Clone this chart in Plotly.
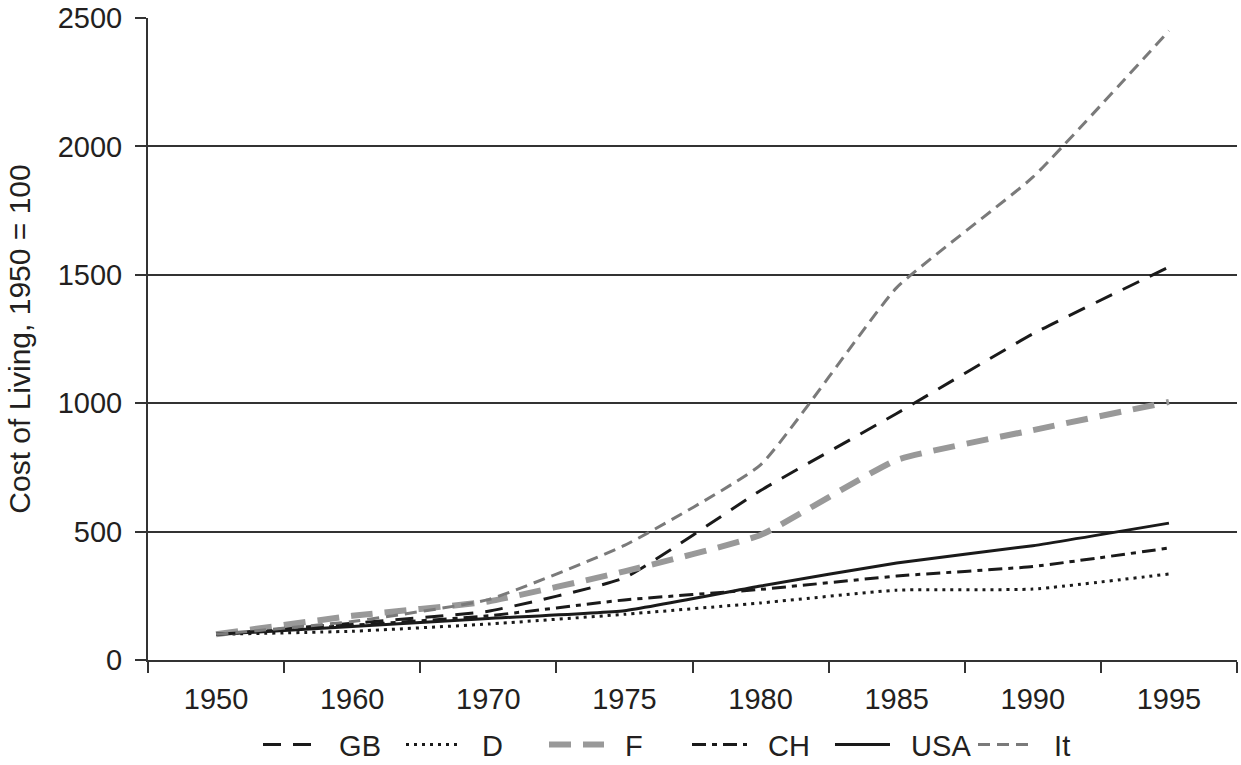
import plotly.graph_objects as go

# cost of living index, 1950 = 100
years = ["1950", "1960", "1970", "1975", "1980", "1985", "1990", "1995"]
gb = [100, 143, 190, 320, 660, 960, 1270, 1530]
d = [100, 112, 140, 178, 222, 272, 276, 335]
f = [100, 172, 228, 345, 487, 779, 895, 1005]
ch = [100, 135, 172, 234, 275, 327, 364, 436]
usa = [100, 130, 162, 192, 288, 378, 445, 533]
it = [100, 150, 235, 446, 760, 1450, 1880, 2450]

FONT = "Liberation Sans, Arial, sans-serif"
INK = "#231f20"
PAD = "\u00a0\u00a0"  # a little more room between legend key and its label

series = [
    ("GB", gb, dict(color="#1a1a1a", width=3, dash="18px,12px")),
    ("D", d, dict(color="#1a1a1a", width=3, dash="3px,5px")),
    ("F", f, dict(color="#999999", width=6, dash="22px,12px")),
    ("CH", ch, dict(color="#1a1a1a", width=3, dash="14px,6px,5px,6px")),
    ("USA", usa, dict(color="#1a1a1a", width=3)),
    ("It", it, dict(color="#7a7a7a", width=3, dash="12px,7px")),
]

fig = go.Figure()
for name, vals, line in series:
    fig.add_trace(go.Scatter(x=years, y=vals, name=PAD + name, mode="lines",
                             line=dict(shape="spline", smoothing=0.4, **line)))

fig.update_layout(
    width=1241, height=765,
    margin=dict(l=148, r=4, t=18, b=105, autoexpand=False),
    paper_bgcolor="white", plot_bgcolor="white",
    font=dict(family=FONT, size=29, color=INK),
    showlegend=True,
    legend=dict(orientation="h", x=0.101, xanchor="left", y=-0.132, yanchor="middle",
                font=dict(size=29), itemwidth=55, tracegroupgap=0,
                entrywidth=73, entrywidthmode="pixels",
                bgcolor="rgba(0,0,0,0)"),
)
fig.update_xaxes(
    type="category", range=[-0.5, 7.5], automargin=False,
    showline=True, linecolor="#333333", linewidth=2,
    ticks="outside", tickson="boundaries", ticklen=11, tickwidth=2, tickcolor="#333333",
    showgrid=False, ticklabelstandoff=12, tickfont=dict(size=29),
)
fig.update_yaxes(
    range=[0, 2500], dtick=500, tick0=0, automargin=False,
    showline=True, linecolor="#333333", linewidth=2,
    ticks="outside", ticklen=11, tickwidth=2, tickcolor="#333333",
    showgrid=True, gridcolor="#333333", gridwidth=2, zeroline=False,
    ticklabelstandoff=7, tickfont=dict(size=29),
    title=dict(text="Cost of Living, 1950 = 100", font=dict(size=30), standoff=18),
)

# drop the default body margin so the figure sits at the window corner
fig.write_html("out.html", config={"displayModeBar": False},
               post_script="document.body.style.margin = '0';")
